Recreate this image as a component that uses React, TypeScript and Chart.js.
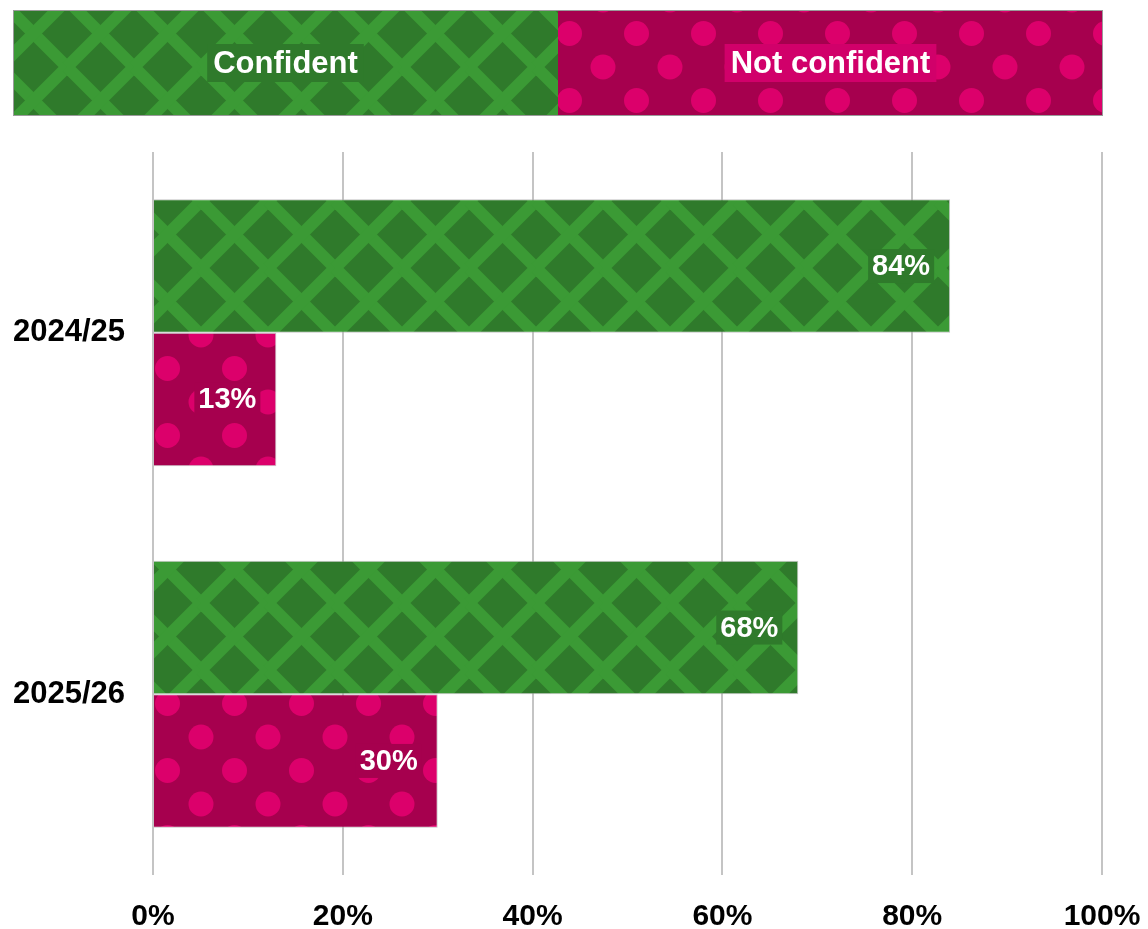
import React, { useEffect, useRef } from "react";
import { Chart, registerables } from "chart.js";

Chart.register(...registerables);

const categories: string[] = ["2024/25", "2025/26"];
const seriesNames: string[] = ["Confident", "Not confident"];
const confidentValues: number[] = [84, 68];
const notConfidentValues: number[] = [13, 30];
const xTickValues: number[] = [0, 20, 40, 60, 80, 100];

const GREEN_BASE = "#2f7a2b";
const GREEN_LINE = "#3b9a35";
const PINK_BASE = "#a6004e";
const PINK_DOT = "#dc006b";
const FONT = '"Liberation Sans", Arial, sans-serif';

function makeGreenPattern(ctx: CanvasRenderingContext2D): CanvasPattern | string {
  const P = 67;
  const c = document.createElement("canvas");
  c.width = P;
  c.height = P;
  const g = c.getContext("2d");
  if (!g) return GREEN_BASE;
  g.fillStyle = GREEN_BASE;
  g.fillRect(0, 0, P, P);
  g.strokeStyle = GREEN_LINE;
  g.lineWidth = 12;
  for (let k = -1; k <= 1; k++) {
    g.beginPath();
    g.moveTo(k * P, 0);
    g.lineTo(k * P + P, P);
    g.stroke();
    g.beginPath();
    g.moveTo(k * P + P, 0);
    g.lineTo(k * P, P);
    g.stroke();
  }
  return ctx.createPattern(c, "repeat") || GREEN_BASE;
}

function makePinkPattern(ctx: CanvasRenderingContext2D): CanvasPattern | string {
  const P = 67;
  const c = document.createElement("canvas");
  c.width = P;
  c.height = P;
  const g = c.getContext("2d");
  if (!g) return PINK_BASE;
  g.fillStyle = PINK_BASE;
  g.fillRect(0, 0, P, P);
  g.fillStyle = PINK_DOT;
  const pts = [
    [0, 0], [P, 0], [0, P], [P, P], [P / 2, P / 2],
  ];
  for (const [x, y] of pts) {
    g.beginPath();
    g.arc(x, y, 12.5, 0, Math.PI * 2);
    g.fill();
  }
  return ctx.createPattern(c, "repeat") || PINK_BASE;
}

export default function App() {
  const ref = useRef<HTMLCanvasElement | null>(null);

  useEffect(() => {
    const canvas = ref.current;
    if (!canvas) return;
    const ctx = canvas.getContext("2d");
    if (!ctx) return;
    const greenPat = makeGreenPattern(ctx);
    const pinkPat = makePinkPattern(ctx);

    const legendPlugin = {
      id: "topLegend",
      afterDraw(chart: any) {
        const c = chart.ctx as CanvasRenderingContext2D;
        const x0 = 13, x1 = 558, x2 = 1103, y0 = 10, y1 = 116;
        c.save();
        c.fillStyle = greenPat as any;
        c.fillRect(x0, y0, x1 - x0, y1 - y0);
        c.fillStyle = pinkPat as any;
        c.fillRect(x1, y0, x2 - x1, y1 - y0);
        c.strokeStyle = "#9a9a9a";
        c.lineWidth = 1;
        c.strokeRect(x0 + 0.5, y0 + 0.5, x2 - x0 - 1, y1 - y0 - 1);
        c.font = `bold 31px ${FONT}`;
        c.textAlign = "center";
        c.textBaseline = "middle";
        const items = [
          { label: seriesNames[0], cx: (x0 + x1) / 2, box: GREEN_BASE },
          { label: seriesNames[1], cx: (x1 + x2) / 2, box: "#d1006a" },
        ];
        const cy = (y0 + y1) / 2;
        for (const it of items) {
          const w = c.measureText(it.label).width;
          c.fillStyle = it.box;
          c.fillRect(it.cx - w / 2 - 6, cy - 19, w + 12, 38);
          c.fillStyle = "#ffffff";
          c.fillText(it.label, it.cx, cy + 1);
        }
        c.restore();
      },
    };

    const dataLabelPlugin = {
      id: "barLabels",
      afterDatasetsDraw(chart: any) {
        const c = chart.ctx as CanvasRenderingContext2D;
        c.save();
        c.font = `bold 29px ${FONT}`;
        c.textAlign = "right";
        c.textBaseline = "middle";
        chart.data.datasets.forEach((ds: any, di: number) => {
          const meta = chart.getDatasetMeta(di);
          meta.data.forEach((el: any, i: number) => {
            const txt = `${ds.data[i]}%`;
            const w = c.measureText(txt).width;
            const xr = el.x - 20;
            c.fillStyle = di === 0 ? GREEN_BASE : PINK_BASE;
            c.fillRect(xr - w - 4, el.y - 17, w + 8, 34);
            c.fillStyle = "#ffffff";
            c.fillText(txt, xr, el.y + 1);
          });
        });
        c.restore();
      },
    };

    const chart = new Chart(ctx, {
      type: "bar",
      data: {
        labels: categories,
        datasets: [
          {
            label: seriesNames[0],
            data: confidentValues,
            backgroundColor: greenPat as any,
            borderColor: "rgba(170,170,170,0.7)",
            borderWidth: 1,
            borderSkipped: "start",
            barPercentage: 1,
            categoryPercentage: 0.738,
          },
          {
            label: seriesNames[1],
            data: notConfidentValues,
            backgroundColor: pinkPat as any,
            borderColor: "rgba(170,170,170,0.7)",
            borderWidth: 1,
            borderSkipped: "start",
            barPercentage: 1,
            categoryPercentage: 0.738,
          },
        ],
      },
      options: {
        indexAxis: "y",
        responsive: false,
        animation: false,
        layout: { padding: { top: 152, right: 46, bottom: 0, left: 0 } },
        plugins: {
          legend: { display: false },
          tooltip: { enabled: false },
          title: { display: false },
        },
        scales: {
          x: {
            min: 0,
            max: 100,
            afterBuildTicks(scale: any) {
              scale.ticks = xTickValues.map((v) => ({ value: v }));
            },
            afterFit(scale: any) {
              scale.height = 54;
              scale.paddingRight = 0;
              scale.paddingLeft = 0;
            },
            grid: {
              color: "#c4c4c4",
              lineWidth: 2,
              drawTicks: false,
            },
            border: { display: false },
            ticks: {
              padding: 24,
              color: "#000000",
              font: { family: FONT, size: 30, weight: "bold" },
              callback: (v: any) => `${v}%`,
            },
          },
          y: {
            afterFit(scale: any) {
              scale.width = 153;
            },
            grid: { display: false, drawTicks: false },
            border: { display: false },
            ticks: {
              padding: 28,
              color: "#000000",
              font: { family: FONT, size: 31, weight: "bold" },
            },
          },
        },
      },
      plugins: [legendPlugin, dataLabelPlugin],
    } as any);

    return () => {
      chart.destroy();
    };
  }, []);

  return (
    <div style={{ position: "absolute", left: 0, top: 0, width: 1148, height: 929, background: "#ffffff" }}>
      <canvas ref={ref} width={1148} height={929} style={{ display: "block", width: 1148, height: 929 }} />
    </div>
  );
}
